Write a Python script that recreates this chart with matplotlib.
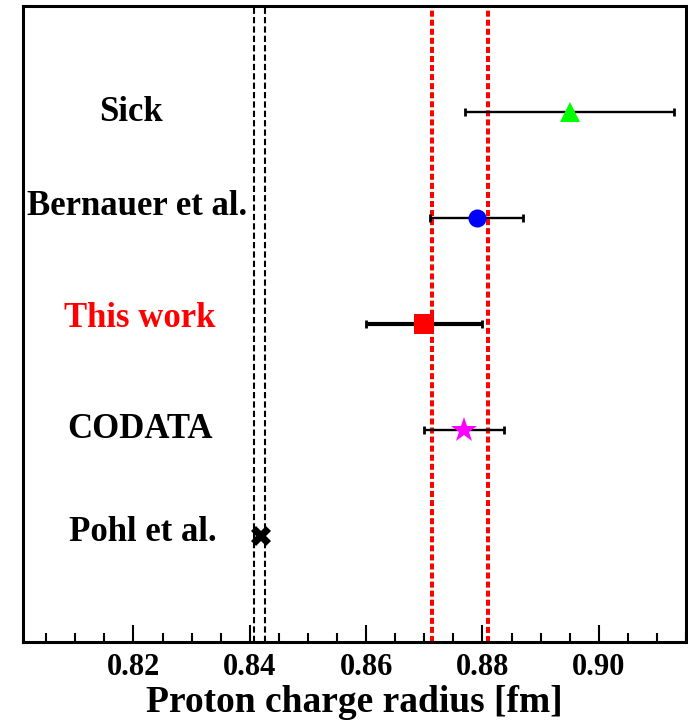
import matplotlib
matplotlib.use("Agg")
import matplotlib.pyplot as plt
from matplotlib.ticker import MultipleLocator

plt.rcParams["font.family"] = ["Liberation Serif", "DejaVu Serif"]
plt.rcParams["font.weight"] = "bold"

# measurements (top to bottom in the figure)
labels = ["Sick", "Bernauer et al.", "This work", "CODATA", "Pohl et al."]
radius = [0.895, 0.879, 0.870, 0.8768, 0.84184]
err_lo = [0.018, 0.008, 0.010, 0.0069, 0.00067]
err_hi = [0.018, 0.008, 0.010, 0.0069, 0.00067]
rows = [5, 4, 3, 2, 1]

# reference bands
red_band = [0.8714, 0.8810]
black_band = [0.8408, 0.8426]

# styling per entry
markers = ["^", "o", "s", "*", "X"]
colors = ["#00ff00", "#0000ff", "#ff0000", "#ff00ff", "black"]
msizes = [15, 13, 14, 19, 14]
bar_lw = [1.7, 1.7, 3.0, 1.7, 1.7]
text_colors = ["black", "black", "#ff0000", "black", "black"]
text_x = [0.8196, 0.8207, 0.8210, 0.8212, 0.8216]
text_dy = [0.0, 0.11, 0.05, 0.0, 0.03]

fig = plt.figure(figsize=(6.88, 7.24), dpi=100)
ax = fig.add_axes([0.0334, 0.1133, 0.9637, 0.8784])

for x in red_band:
    ax.axvline(x, color="#ff0000", lw=2.9, linestyle=(0, (1.5, 0.75)), zorder=1)
for x in black_band:
    ax.axvline(x, color="black", lw=1.5, linestyle=(0, (3.0, 1.5)), zorder=1)

for i in range(len(labels)):
    ax.errorbar(radius[i], rows[i], xerr=[[err_lo[i]], [err_hi[i]]],
                fmt="none", ecolor="black", elinewidth=bar_lw[i],
                capsize=3, capthick=2, zorder=2)
    ax.plot(radius[i], rows[i], marker=markers[i], color=colors[i],
            markersize=msizes[i], markeredgewidth=0, zorder=3)
    ax.text(text_x[i], rows[i] + text_dy[i], labels[i], color=text_colors[i],
            fontsize=25, fontweight="bold", ha="center", va="center")

ax.set_xlim(0.801, 0.915)
ax.set_ylim(0, 6)
ax.xaxis.set_major_locator(MultipleLocator(0.02))
ax.xaxis.set_minor_locator(MultipleLocator(0.005))
ax.xaxis.set_major_formatter(plt.FuncFormatter(lambda v, p: f"{v:.2f}"))
ax.set_yticks([])
ax.tick_params(axis="x", which="major", direction="in", length=12, width=1.5,
               labelsize=22, pad=8)
ax.tick_params(axis="x", which="minor", direction="in", length=6.5, width=1.5)
for lab in ax.get_xticklabels():
    lab.set_fontweight("bold")
for s in ax.spines.values():
    s.set_linewidth(2.2)

ax.set_xlabel("Proton charge radius [fm]", fontsize=27, fontweight="bold", labelpad=2)

fig.savefig("out.png", dpi=100)
